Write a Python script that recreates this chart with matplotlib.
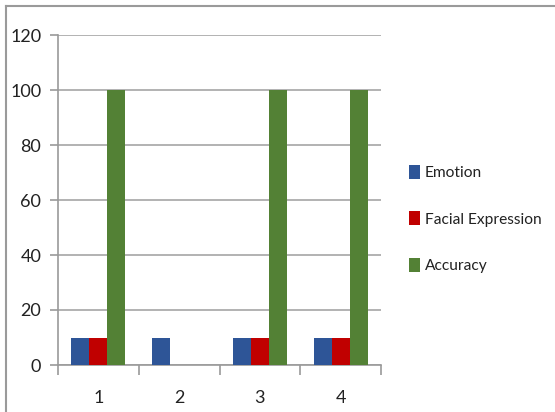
import matplotlib
matplotlib.use("Agg")
import matplotlib.pyplot as plt
import numpy as np
from matplotlib.lines import Line2D
from matplotlib.patches import Patch

categories = ["1", "2", "3", "4"]
series_names = ["Emotion", "Facial Expression", "Accuracy"]
emotion = [10, 10, 10, 10]
facial_expression = [10, 0, 10, 10]
accuracy = [100, 0, 100, 100]
y_ticks = [0, 20, 40, 60, 80, 100, 120]

colors = ["#2E5597", "#C00000", "#538135"]
font = ["Lato", "DejaVu Sans"]
plt.rcParams["font.family"] = font

W, H = 555, 412
fig = plt.figure(figsize=(W / 100, H / 100), dpi=100)
fig.patch.set_facecolor("white")

# plot area in pixel coordinates
left, right, top, bottom = 58, 381, 35, 365
ax = fig.add_axes([left / W, (H - bottom) / H, (right - left) / W, (bottom - top) / H])

x = np.arange(len(categories))
bw = 1 / 4.5
values = [emotion, facial_expression, accuracy]
for i, (vals, c) in enumerate(zip(values, colors)):
    ax.bar(x + (i - 1) * bw, vals, width=bw, color=c, edgecolor="none", zorder=3)

ax.set_xlim(-0.5, len(categories) - 0.5)
ax.set_ylim(0, 120)
ax.set_yticks(y_ticks)
ax.set_yticklabels([str(v) for v in y_ticks])
ax.set_xticks(x)
ax.set_xticklabels(categories)
ax.set_xticks(np.arange(-0.5, len(categories)), minor=True)

ax.grid(axis="y", color="#A6A6A6", linewidth=1.2, zorder=0)
for s in ["top", "right"]:
    ax.spines[s].set_visible(False)
for s in ["left", "bottom"]:
    ax.spines[s].set_color("#9A9A9A")
    ax.spines[s].set_linewidth(1.2)

ax.tick_params(axis="y", length=6, width=1.2, color="#9A9A9A", pad=6,
               labelsize=13, labelcolor="#222222")
ax.tick_params(axis="x", which="major", length=0, pad=18, labelsize=13,
               labelcolor="#222222")
ax.tick_params(axis="x", which="minor", length=7, width=1.2, color="#9A9A9A")

handles = [Patch(facecolor=c, edgecolor="none") for c in colors]
fig.legend(handles, series_names, loc="center left",
           bbox_to_anchor=(403 / W, 1 - 219 / H), frameon=False,
           fontsize=11.2, handlelength=0.7, handleheight=1.0,
           handletextpad=0.3, labelspacing=2.0, borderaxespad=0,
           labelcolor="#222222")

# outer chart frame
fy = 1 - 6 / H
fx = 6 / W
fig.add_artist(Line2D([fx, 1], [fy, fy], color="#9A9A9A", linewidth=1.5,
                      transform=fig.transFigure))
fig.add_artist(Line2D([fx, fx], [0, fy], color="#9A9A9A", linewidth=1.5,
                      transform=fig.transFigure))

fig.savefig("out.png", dpi=100, facecolor="white")
